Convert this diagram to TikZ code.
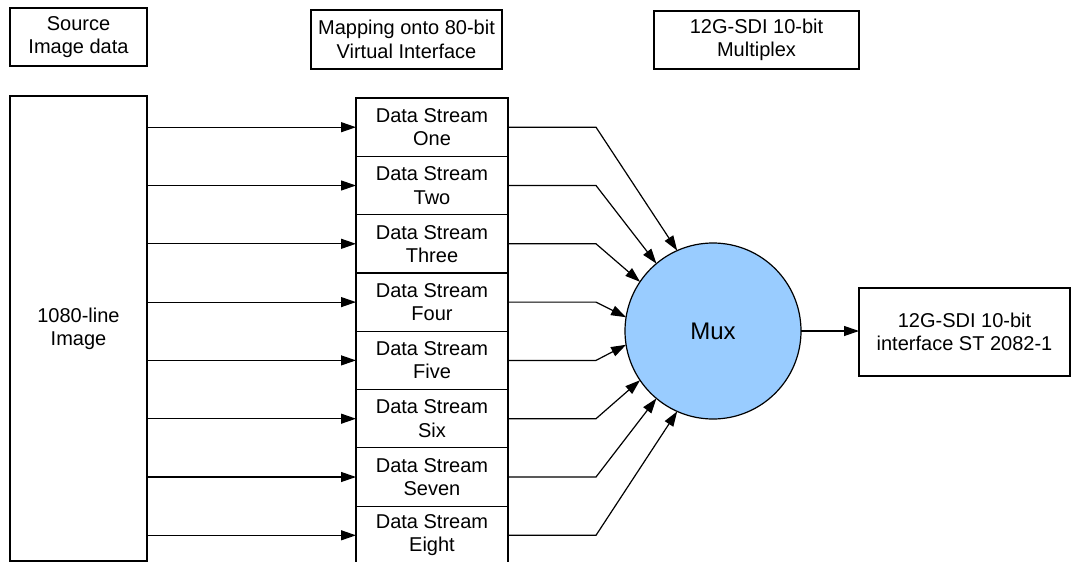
\documentclass[tikz,border=0pt]{standalone}
\usepackage{fontspec}
\setmainfont{Liberation Sans}
\usetikzlibrary{arrows.meta,positioning}
\definecolor{muxblue}{RGB}{153,204,255}
\tikzstyle{every node}=[font=\fontsize{20}{23.3}\selectfont]
\tikzstyle{block}=[draw,line width=1.2pt,align=center,inner sep=0pt,outer sep=0pt]
\tikzstyle{stream}=[block,minimum width=152pt,minimum height=58.3pt]
\tikzstyle{link}=[line width=1.2pt,-{Triangle[length=15pt,width=10pt]}]

\begin{document}
\begin{tikzpicture}[x=1pt,y=-1pt]
  \useasboundingbox (0,0) rectangle (1071,562);
  \clip (0,0) rectangle (1071,562);
  % column headings
  \node[block,minimum width=137pt,minimum height=58pt] (hsrc) at (78.5,37) {Source\\Image data};
  \node[block,minimum width=191pt,minimum height=59pt] (hmap) at (406.5,39.5) {Mapping onto 80-bit\\Virtual Interface};
  \node[block,minimum width=205pt,minimum height=58pt] (hmpx) at (756.5,40) {12G-SDI 10-bit\\Multiplex};

  \node[block,minimum width=137pt,minimum height=465pt] (img) at (78.5,328.5) {1080-line\\Image};

  \node[stream] (ds1) at (432,127.2) {Data Stream\\One};
  \node[stream] (ds2) [below=0pt of ds1] {Data Stream\\Two};
  \node[stream] (ds3) [below=0pt of ds2] {Data Stream\\Three};
  \node[stream] (ds4) [below=0pt of ds3] {Data Stream\\Four};
  \node[stream] (ds5) [below=0pt of ds4] {Data Stream\\Five};
  \node[stream] (ds6) [below=0pt of ds5] {Data Stream\\Six};
  \node[stream] (ds7) [below=0pt of ds6] {Data Stream\\Seven};
  \node[stream] (ds8) [below=0pt of ds7] {Data Stream\\Eight};

  \node[block,circle,fill=muxblue,minimum size=176pt,font=\fontsize{24}{28}\selectfont] (mux) at (713,331) {Mux};
  \node[block,minimum width=211pt,minimum height=88pt] (out) at (964.5,332) {12G-SDI 10-bit\\interface ST 2082-1};

  \foreach \i in {1,...,8}
    \draw[link] (img.east |- ds\i.west) -- (ds\i.west);
  \foreach \i/\a in {1/114,2/130,3/146,4/171,5/189,6/214,7/230,8/246}
    \draw[link] (ds\i.east) -- ++(88,0) -- (mux.\a);
  \draw[link] (mux.east) -- (mux.east -| out.west);
\end{tikzpicture}
\end{document}
